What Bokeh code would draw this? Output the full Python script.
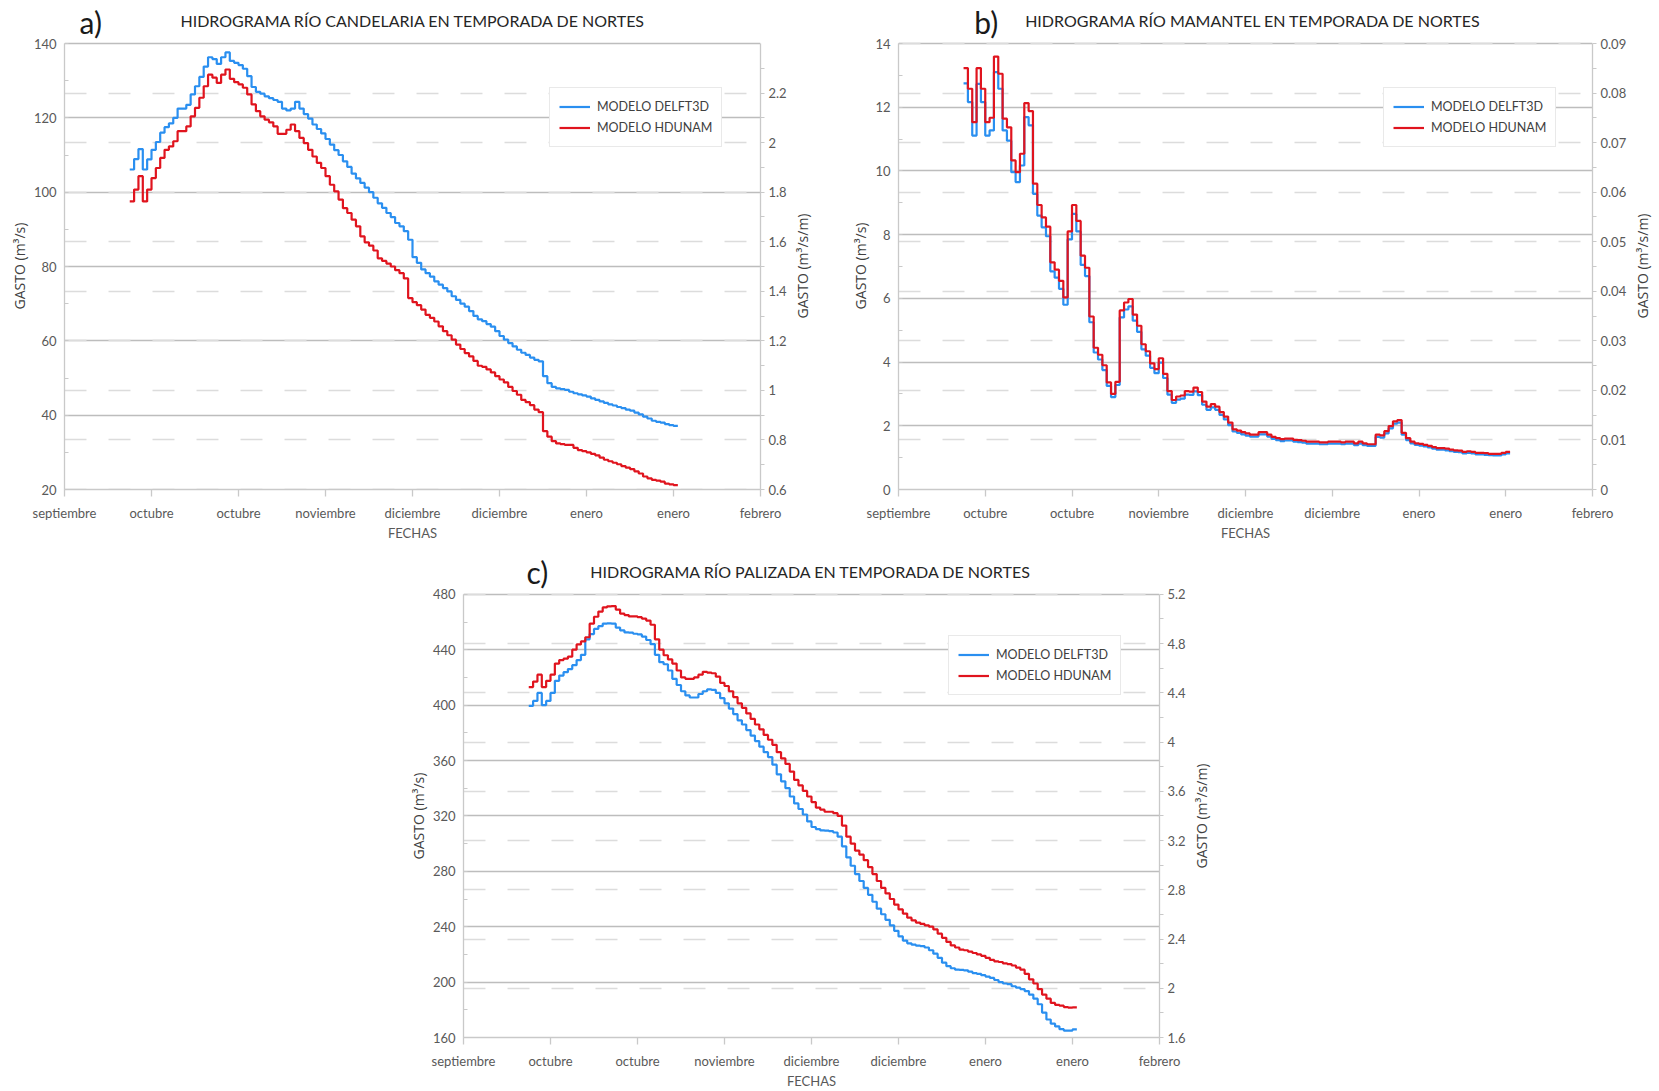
from bokeh.plotting import figure
from bokeh.models import (Range1d, LinearAxis, FixedTicker, SingleIntervalTicker, Grid,
                          NumeralTickFormatter, Legend, LegendItem, Label, Spacer)
from bokeh.layouts import column, row
from bokeh.embed import file_html
from bokeh.resources import INLINE

# ---------------- data ----------------
DIAS = list(range(15, 141))           # daily steps (day 0 = first axis tick)
TICK_DIAS = [0, 20, 40, 60, 80, 100, 120, 140, 160]
TICK_LABELS = ["septiembre", "octubre", "octubre", "noviembre", "diciembre",
               "diciembre", "enero", "enero", "febrero"]

cand_delft = [106.1, 108.9, 111.6, 106.1, 108.8, 111.4, 113.5, 116, 117.5, 118.5,
              120, 122.5, 122.5, 123.5, 126.3, 128.5, 131, 133.8, 136.3, 135.8,
              134.5, 136.3, 137.6, 135.3, 134.8, 134.2, 133.2, 131.2, 128.3, 127,
              126.5, 125.8, 125.3, 124.8, 124.3, 122.5, 122, 122.5, 124.3, 122.5,
              121, 119.8, 118.2, 117, 115.8, 114.3, 112.8, 111.3, 110, 108.3,
              106.8, 105, 103.7, 102.5, 101.2, 100, 98.5, 97, 95.8, 94.4,
              93.3, 91.7, 90.8, 89.5, 87.2, 82.5, 81, 79.2, 78.2, 77.3,
              76, 75.1, 74.2, 73.3, 72, 71, 70, 69.2, 68, 66.7,
              65.8, 65.3, 64.5, 63.8, 62.6, 61.3, 60.3, 59.4, 58.5, 57.6,
              56.8, 56.2, 55.5, 54.9, 54.5, 50.5, 48.6, 47.6, 47.2, 47,
              46.8, 46.3, 45.9, 45.6, 45.3, 45, 44.5, 44.1, 43.7, 43.3,
              42.9, 42.6, 42.2, 41.9, 41.5, 41.2, 40.7, 40.2, 39.6, 39.1,
              38.5, 38.2, 38, 37.6, 37.3, 37.1]
cand_hdunam = [97.5, 100.7, 104.3, 97.5, 100.7, 103.8, 106.5, 109.2, 111.4, 112.3,
               113.7, 116.4, 116.4, 117.7, 120.4, 122.7, 125.4, 128.5, 131.6, 130.8,
               129.4, 131.6, 133, 130.5, 129.6, 129, 128.1, 126.3, 123.6, 121.8,
               120.4, 119.5, 118.8, 117.7, 115.7, 115.7, 116.8, 118.2, 116.4, 114.6,
               113.2, 111.4, 109.6, 107.9, 106.5, 104.3, 102, 100.2, 98, 95.7,
               94.4, 92.6, 90.8, 88.1, 86.5, 85.6, 84.3, 82.2, 81.5, 80.8,
               80, 79, 78.2, 76.8, 71.5, 70.4, 69.6, 68.4, 67, 66.2,
               65.2, 63.9, 62.6, 61.5, 60.3, 59, 57.8, 56.7, 55.8, 54.6,
               53.3, 53, 52.3, 51.5, 50.5, 49.6, 48.8, 47.6, 46.5, 45.5,
               44.1, 43.5, 42.7, 41.5, 40.8, 35.7, 34.2, 33, 32.4, 32.2,
               32, 32, 31.2, 30.6, 30.3, 30, 29.6, 29.2, 28.6, 28,
               27.6, 27.2, 26.8, 26.3, 25.9, 25.5, 24.9, 24.3, 23.5, 23,
               22.6, 22.4, 22.1, 21.6, 21.4, 21.2]

mama_delft = [12.75, 12.16, 11.11, 12.73, 12.16, 11.11, 11.27, 13.1, 12.58, 11.27,
              10.95, 9.96, 9.65, 10.17, 11.69, 11.43, 9.28, 8.6, 8.23, 7.95,
              6.85, 6.65, 6.3, 5.8, 7.85, 8.65, 8.1, 7.05, 6.7, 5.25,
              4.3, 4.08, 3.75, 3.25, 2.9, 3.28, 5.4, 5.65, 5.75, 5.3,
              4.95, 4.4, 4.2, 3.82, 3.65, 3.98, 3.5, 2.98, 2.72, 2.82,
              2.85, 2.98, 2.97, 3.08, 2.96, 2.66, 2.5, 2.58, 2.5, 2.34,
              2.2, 2.02, 1.82, 1.78, 1.73, 1.69, 1.66, 1.66, 1.73, 1.73,
              1.66, 1.59, 1.55, 1.52, 1.54, 1.54, 1.5, 1.49, 1.47, 1.44,
              1.44, 1.44, 1.42, 1.42, 1.44, 1.44, 1.44, 1.42, 1.44, 1.44,
              1.39, 1.44, 1.39, 1.37, 1.37, 1.65, 1.63, 1.76, 1.92, 2.07,
              2.1, 1.72, 1.55, 1.45, 1.4, 1.38, 1.35, 1.32, 1.28, 1.25,
              1.25, 1.23, 1.2, 1.18, 1.17, 1.13, 1.15, 1.13, 1.1, 1.1,
              1.09, 1.08, 1.07, 1.07, 1.1, 1.13]
mama_hdunam = [13.23, 12.58, 11.53, 13.23, 12.58, 11.53, 11.67, 13.59, 13.05, 11.64,
               11.37, 10.33, 9.96, 10.54, 12.13, 11.88, 9.6, 8.93, 8.54, 8.25,
               7.13, 6.9, 6.55, 6.03, 8.1, 8.93, 8.43, 7.34, 6.96, 5.43,
               4.45, 4.23, 3.9, 3.36, 3.0, 3.38, 5.62, 5.87, 5.98, 5.49,
               5.14, 4.56, 4.34, 3.96, 3.78, 4.12, 3.63, 3.09, 2.81, 2.92,
               2.95, 3.09, 3.07, 3.2, 3.06, 2.76, 2.6, 2.68, 2.6, 2.43,
               2.29, 2.1, 1.89, 1.85, 1.8, 1.76, 1.72, 1.72, 1.8, 1.8,
               1.72, 1.65, 1.61, 1.58, 1.6, 1.6, 1.56, 1.55, 1.53, 1.5,
               1.5, 1.5, 1.48, 1.48, 1.5, 1.5, 1.5, 1.48, 1.5, 1.5,
               1.45, 1.5, 1.45, 1.42, 1.42, 1.72, 1.7, 1.83, 1.99, 2.14,
               2.18, 1.78, 1.61, 1.5, 1.45, 1.43, 1.4, 1.37, 1.33, 1.3,
               1.3, 1.28, 1.25, 1.23, 1.22, 1.18, 1.2, 1.18, 1.15, 1.15,
               1.14, 1.12, 1.12, 1.12, 1.15, 1.18]

pali_delft = [399.5, 403, 408.8, 400, 403, 408.8, 417.5, 421.3, 423.8, 426,
              428.8, 432.5, 436.3, 447.5, 451.3, 455, 457, 458.8, 459, 458.8,
              456, 454, 452.5, 452.3, 451.5, 451, 449.5, 447, 444, 436.3,
              431, 429.5, 425, 419, 414.5, 410, 407, 405.5, 405.5, 408,
              410, 411.3, 411, 408.8, 405, 401.3, 397.5, 393.5, 389, 386,
              382, 378, 374, 370, 366, 362.5, 357, 350, 345, 340,
              334, 329, 325, 321, 316, 312, 310.5, 309.5, 309.3, 309,
              308, 305, 298, 290, 284, 278, 273, 268, 263, 258,
              253, 249, 245, 241, 237, 233, 230, 228, 227, 226.3,
              226, 225, 223, 220.5, 217.5, 214, 211.5, 210, 209, 208.8,
              208.5, 207.5, 206.5, 206, 205, 204, 203, 201.5, 200, 199,
              198.5, 197, 196, 195, 193.5, 191, 188, 184, 178, 173,
              170, 168, 166, 165, 165, 165.8]
pali_hdunam = [413, 417, 422, 413, 417.5, 422, 430, 432.5, 433.5, 435,
               440, 443.8, 446, 449, 458.8, 463.8, 467.5, 470.5, 471.3, 471.5,
               469, 466, 465, 464, 464, 463.5, 462.5, 461, 458, 447.5,
               440, 436, 433, 430, 425, 420, 419, 419, 420, 422,
               424, 423.5, 423, 420.5, 416, 413.8, 410, 405.8, 401.3, 398,
               394, 390, 386, 382.5, 378.5, 375, 371.3, 366, 361.5, 357.5,
               352, 346, 342, 338, 334, 330, 326, 324.5, 323, 323,
               322, 320, 313, 305, 300, 295, 292, 288, 283, 278,
               273, 268, 264, 260, 256, 252.5, 249.5, 246.5, 244.5, 243,
               242, 241, 240, 238, 235, 232, 229, 226.5, 225, 223.5,
               223, 222, 221, 220, 219, 217.5, 216, 215, 214.5, 213.5,
               213, 212, 210.5, 209, 206, 202, 199, 195, 191, 188,
               185, 183.5, 183, 182, 181.5, 181.8]

# ---------------- style ----------------
BLUE = "#2a8ff0"
RED = "#e0141e"
AXIS_C = "#c9c9c9"
GRID_C = "#bdbdbd"
DASH_C = "#dcdcdc"
TXT_C = "#595959"
FONT = "Lato"
TITLE_FONT = "Open Sans"
X_END = 160
AXT_SIZE = 14
LEFT_TITLE = "GASTO (m³/s)"
RIGHT_TITLE = "GASTO (m³/s/m)"


def pad_for(px):
    # trailing spacing (em / en spaces) so the rotated axis title is centred on the value range
    n_em = int(px // AXT_SIZE)
    rest = px - n_em * AXT_SIZE
    return "\u2003" * n_em + ("\u2002" if rest >= AXT_SIZE / 4 else "")


def panel(width, height, bl, br, bt, bb, ylo, yhi, ystep, rlo, rhi, rstep,
          delft, hdunam, letter, title, letter_dx, title_dx):
    fh = height - bt - bb
    fw = width - bl - br
    ytop = yhi + (yhi - ylo) * bt / fh
    rtop = rhi + (rhi - rlo) * bt / fh
    p = figure(width=width, height=height, x_range=Range1d(0, X_END),
               y_range=Range1d(ylo, ytop), output_backend="svg", toolbar_location=None,
               min_border_left=bl, min_border_right=br, min_border_top=0,
               min_border_bottom=bb, outline_line_color=None, background_fill_color="white")
    p.extra_y_ranges = {"right": Range1d(rlo, rtop)}

    # x axis
    xa = p.xaxis[0]
    xa.ticker = FixedTicker(ticks=TICK_DIAS)
    xa.major_label_overrides = {t: l for t, l in zip(TICK_DIAS, TICK_LABELS)}
    xa.axis_label = "FECHAS"
    xa.axis_line_color = AXIS_C
    xa.axis_line_width = 1.3
    xa.major_tick_line_color = AXIS_C
    xa.major_tick_line_width = 1.3
    xa.major_tick_out = 7
    xa.major_tick_in = 0
    xa.minor_tick_line_color = None
    xa.major_label_text_font = FONT
    xa.major_label_text_font_size = "13px"
    xa.major_label_text_color = TXT_C
    xa.major_label_standoff = 8
    xa.axis_label_text_font = FONT
    xa.axis_label_text_font_size = "13px"
    xa.axis_label_text_font_style = "normal"
    xa.axis_label_text_color = TXT_C
    xa.axis_label_standoff = 1

    # left axis
    ya = p.yaxis[0]
    ya.bounds = (ylo, yhi)
    ya.ticker = SingleIntervalTicker(interval=ystep, num_minor_ticks=2)
    ya.axis_label = LEFT_TITLE + pad_for(bt)
    ya.axis_line_color = AXIS_C
    ya.axis_line_width = 1.3
    ya.major_tick_line_color = None
    ya.major_tick_out = 0
    ya.major_tick_in = 0
    ya.minor_tick_line_color = AXIS_C
    ya.minor_tick_in = 4
    ya.minor_tick_out = 0
    ya.major_label_text_font = FONT
    ya.major_label_text_font_size = "13px"
    ya.major_label_text_color = TXT_C
    ya.major_label_standoff = 8
    ya.axis_label_text_font = TITLE_FONT
    ya.axis_label_text_font_size = f"{AXT_SIZE}px"
    ya.axis_label_text_font_style = "normal"
    ya.axis_label_text_color = "#404040"
    ya.axis_label_standoff = 2

    # right axis (its title is carried by the narrow companion figure)
    rticker = SingleIntervalTicker(interval=rstep, num_minor_ticks=2)
    ra = LinearAxis(y_range_name="right", ticker=rticker, bounds=(rlo, rhi),
                    formatter=NumeralTickFormatter(format="0.[00]"))
    ra.axis_line_color = AXIS_C
    ra.axis_line_width = 1.3
    ra.major_tick_line_color = None
    ra.major_tick_out = 0
    ra.major_tick_in = 0
    ra.minor_tick_line_color = AXIS_C
    ra.minor_tick_in = 0
    ra.minor_tick_out = 4
    ra.major_label_text_font = FONT
    ra.major_label_text_font_size = "13px"
    ra.major_label_text_color = TXT_C
    ra.major_label_standoff = 4
    p.add_layout(ra, "right")

    # grids
    p.xgrid.grid_line_color = None
    p.ygrid.grid_line_color = GRID_C
    p.ygrid.grid_line_width = 1.6
    dg = Grid(dimension=1, ticker=rticker, y_range_name="right",
              grid_line_color=DASH_C, grid_line_width=1.6, grid_line_dash="22 22")
    p.add_layout(dg)

    xs = DIAS + [DIAS[-1] + 1]
    r1 = p.step(xs, delft + [delft[-1]], mode="after", line_color=BLUE, line_width=2.2)
    r2 = p.step(xs, hdunam + [hdunam[-1]], mode="after", line_color=RED, line_width=2.2)

    leg = Legend(items=[LegendItem(label="MODELO DELFT3D", renderers=[r1]),
                        LegendItem(label="MODELO HDUNAM", renderers=[r2])],
                 location=(485, 342), orientation="vertical",
                 label_text_font=FONT, label_text_font_size="12.5px",
                 label_text_color="#404040", glyph_width=31, glyph_height=19,
                 label_height=19, spacing=2, padding=9, margin=0,
                 label_standoff=7, border_line_color="#d4d4d4", border_line_width=1.2,
                 background_fill_color="white", background_fill_alpha=1.0)
    p.add_layout(leg)

    ux = X_END / fw
    uy = (yhi - ylo) / fh
    p.add_layout(Label(x=letter_dx * ux, y=yhi + 22 * uy, text=letter,
                       text_font=FONT, text_font_size="30px", text_color="#1a1a1a",
                       text_baseline="alphabetic"))
    p.add_layout(Label(x=title_dx * ux, y=yhi + 23 * uy, text=title,
                       text_font=FONT, text_font_size="16px", text_color="#262626",
                       text_baseline="alphabetic"))
    return p


def right_title(width, height, bt, bb):
    # narrow companion figure with the same frame as its panel: a tick-less left axis
    # that carries the secondary-axis title (reads bottom-to-top, centred on the range)
    q = figure(width=width, height=height, x_axis_type=None, y_axis_type=None,
               x_range=Range1d(0, 1), y_range=Range1d(0, 1),
               output_backend="svg", toolbar_location=None,
               min_border_left=4, min_border_right=0, min_border_top=0,
               min_border_bottom=bb, outline_line_color=None,
               background_fill_color="white")
    ax = LinearAxis(ticker=FixedTicker(ticks=[-5]), axis_label=RIGHT_TITLE + pad_for(bt))
    ax.axis_line_color = None
    ax.major_tick_line_color = None
    ax.minor_tick_line_color = None
    ax.major_tick_out = 0
    ax.major_tick_in = 0
    ax.minor_tick_out = 0
    ax.minor_tick_in = 0
    ax.major_label_standoff = 0
    ax.axis_label_text_font = TITLE_FONT
    ax.axis_label_text_font_size = f"{AXT_SIZE}px"
    ax.axis_label_text_font_style = "normal"
    ax.axis_label_text_color = "#404040"
    ax.axis_label_standoff = 0
    q.add_layout(ax, "left")
    return q


pa = panel(789, 545, 64, 29, 43, 56, 20, 140, 20, 0.6, 2.4, 0.2,
           cand_delft, cand_hdunam, "a)",
           "HIDROGRAMA RÍO CANDELARIA EN TEMPORADA DE NORTES", 15, 116)
na = right_title(41, 545, 43, 56)
pb = panel(799, 545, 68, 35, 43, 56, 0, 14, 2, 0.0, 0.09, 0.01,
           mama_delft, mama_hdunam, "b)",
           "HIDROGRAMA RÍO MAMANTEL EN TEMPORADA DE NORTES", 76, 127)
nb = right_title(30, 545, 43, 56)
pc = panel(788, 546, 63, 28, 49, 52, 160, 480, 40, 1.6, 5.2, 0.4,
           pali_delft, pali_hdunam, "c)",
           "HIDROGRAMA RÍO PALIZADA EN TEMPORADA DE NORTES", 63, 127)
nc = right_title(33, 546, 49, 52)

layout = column(row(pa, na, pb, nb), row(Spacer(width=400, height=546), pc, nc))
open("out.html", "w").write(file_html(layout, INLINE))
